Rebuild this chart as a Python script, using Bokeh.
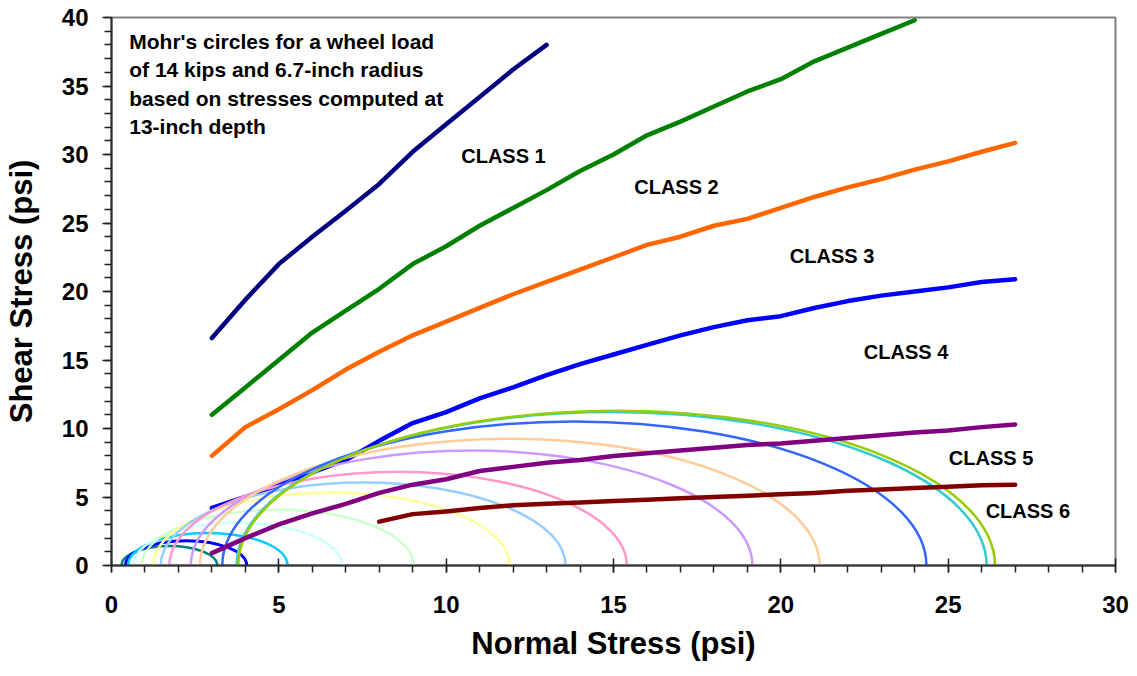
from bokeh.plotting import figure
from bokeh.models import Range1d, SingleIntervalTicker, Label, ColumnDataSource
from bokeh.core.properties import value
from bokeh.embed import file_html
from bokeh.resources import INLINE

# ---------------- data ----------------
class1_x = [3, 4, 5, 6, 7, 8, 9, 10, 11, 12, 13]
class1_y = [16.6, 19.4, 22.0, 24.0, 25.9, 27.85, 30.2, 32.2, 34.2, 36.2, 38.0]

class2_x = list(range(3, 25))
class2_y = [11.0, 13.0, 15.0, 17.0, 18.6, 20.2, 22.0, 23.3, 24.8, 26.1, 27.4,
            28.8, 30.0, 31.4, 32.4, 33.5, 34.6, 35.5, 36.8, 37.8, 38.8, 39.8]

class3_x = list(range(3, 28))
class3_y = [8.0, 10.1, 11.4, 12.8, 14.3, 15.6, 16.8, 17.8, 18.8, 19.8, 20.7, 21.6,
            22.5, 23.4, 24.0, 24.8, 25.3, 26.1, 26.9, 27.6, 28.2, 28.9, 29.5, 30.2, 30.85]

class4_x = list(range(3, 28))
class4_y = [4.2, 5.0, 5.9, 6.8, 7.7, 9.1, 10.4, 11.2, 12.2, 13.0, 13.9, 14.7, 15.4,
            16.1, 16.8, 17.4, 17.9, 18.2, 18.8, 19.3, 19.7, 20.0, 20.3, 20.7, 20.9]

class5_x = list(range(3, 28))
class5_y = [0.9, 2.0, 3.0, 3.8, 4.5, 5.3, 5.9, 6.3, 6.9, 7.2, 7.5, 7.7, 8.0, 8.2,
            8.4, 8.6, 8.8, 8.9, 9.1, 9.3, 9.5, 9.7, 9.85, 10.1, 10.3]

class6_x = list(range(8, 28))
class6_y = [3.2, 3.75, 3.95, 4.2, 4.4, 4.5, 4.6, 4.7, 4.8, 4.9, 5.0, 5.1, 5.2, 5.3,
            5.45, 5.55, 5.65, 5.75, 5.85, 5.9]

class_names = ["CLASS 1", "CLASS 2", "CLASS 3", "CLASS 4", "CLASS 5", "CLASS 6"]

# Mohr's circles: minor and major principal stresses (psi)
sigma3 = [0.30, 0.42, 0.50, 0.65, 0.90, 1.25, 1.47, 1.73, 2.37, 2.64, 3.31, 3.74, 3.79]
sigma1 = [3.16, 4.04, 5.26, 6.89, 9.03, 11.90, 13.57, 15.40, 19.15, 21.16, 24.35, 26.15, 26.40]

note_lines = ["Mohr's circles for a wheel load",
              "of 14 kips and 6.7-inch radius",
              "based on stresses computed at",
              "13-inch depth"]

x_title = "Normal Stress (psi)"
y_title = "Shear Stress (psi)"

# ---------------- styles ----------------
FONT = "Liberation Sans"
class_colors = ["#000080", "#008000", "#FF6600", "#0000FF", "#800080", "#800000"]
circle_colors = ["#008080", "#0000FF", "#00CCFF", "#CCFFFF", "#CCFFCC", "#FFFF99",
                 "#99CCFF", "#FF99CC", "#CC99FF", "#FFCC99", "#3366FF", "#33CCCC", "#99CC00"]
circle_widths = [2.5, 3, 2.5, 2.5, 2.5, 2.5, 2.5, 2.5, 2.5, 2.5, 2.5, 2.5, 2.5]

p = figure(width=1137, height=676, x_range=Range1d(0, 30), y_range=Range1d(0, 40),
           output_backend="svg", toolbar_location=None,
           min_border_left=110, min_border_right=22, min_border_top=17, min_border_bottom=111)
p.background_fill_color = "white"
p.border_fill_color = "white"
p.outline_line_color = "#808080"
p.outline_line_width = 2
p.xgrid.visible = False
p.ygrid.visible = False

p.xaxis.ticker = SingleIntervalTicker(interval=5, num_minor_ticks=5)
p.yaxis.ticker = SingleIntervalTicker(interval=5, num_minor_ticks=5)
for ax in (p.xaxis, p.yaxis):
    ax.axis_line_color = "#303030"
    ax.axis_line_width = 2
    ax.major_tick_line_color = "#202020"
    ax.minor_tick_line_color = "#202020"
    ax.major_tick_line_width = 1.5
    ax.minor_tick_line_width = 1.5
    ax.major_label_text_font = FONT
    ax.major_label_text_font_style = "bold"
    ax.major_label_text_font_size = "24px"
    ax.major_label_text_color = "black"
    ax.axis_label_text_font = FONT
    ax.axis_label_text_font_style = "bold"
    ax.axis_label_text_font_size = "31px"
    ax.axis_label_text_color = "black"

p.xaxis.major_tick_in = 7
p.xaxis.major_tick_out = 7
p.xaxis.minor_tick_in = 0
p.xaxis.minor_tick_out = 7
p.xaxis.major_label_standoff = 23
p.xaxis.axis_label = x_title
p.xaxis.axis_label_standoff = 10

p.yaxis.major_tick_in = 0
p.yaxis.major_tick_out = 9
p.yaxis.minor_tick_in = 0
p.yaxis.minor_tick_out = 7
p.yaxis.major_label_standoff = 14
p.yaxis.axis_label = y_title
p.yaxis.axis_label_standoff = 20

# class lines 1-4
class_xs = [class1_x, class2_x, class3_x, class4_x, class5_x, class6_x]
class_ys = [class1_y, class2_y, class3_y, class4_y, class5_y, class6_y]
for i in range(4):
    p.line(class_xs[i], class_ys[i], line_color=class_colors[i], line_width=4.5,
           line_cap="round", line_join="round")

# Mohr's circles (upper halves, lower halves clipped by the frame)
centers = [(a + b) / 2 for a, b in zip(sigma3, sigma1)]
diams = [(b - a) for a, b in zip(sigma3, sigma1)]
for c, d, col, w in zip(centers, diams, circle_colors, circle_widths):
    p.ellipse(x=[c], y=[0], width=[d], height=[d], fill_color=None,
              line_color=col, line_width=w)

# class lines 5-6
for i in range(4, 6):
    p.line(class_xs[i], class_ys[i], line_color=class_colors[i], line_width=4.5,
           line_cap="round", line_join="round")

# class labels
label_pos = [(10.45, 29.87), (15.62, 27.64), (20.27, 22.57), (22.48, 15.55),
             (25.02, 7.85), (26.12, 3.96)]
src = ColumnDataSource(dict(x=[q[0] for q in label_pos], y=[q[1] for q in label_pos],
                            t=class_names))
p.text(x="x", y="y", text="t", source=src, text_font=value(FONT), text_font_style="bold",
       text_font_size="20px", text_color="black", text_align="left", text_baseline="middle")

# note
for i, line in enumerate(note_lines):
    p.add_layout(Label(x=0.53, y=38.26 - 2.07 * i, text=line, text_font=FONT,
                       text_font_style="bold", text_font_size="21px", text_color="black",
                       text_align="left", text_baseline="middle"))

open("out.html", "w").write(file_html(p, INLINE))
